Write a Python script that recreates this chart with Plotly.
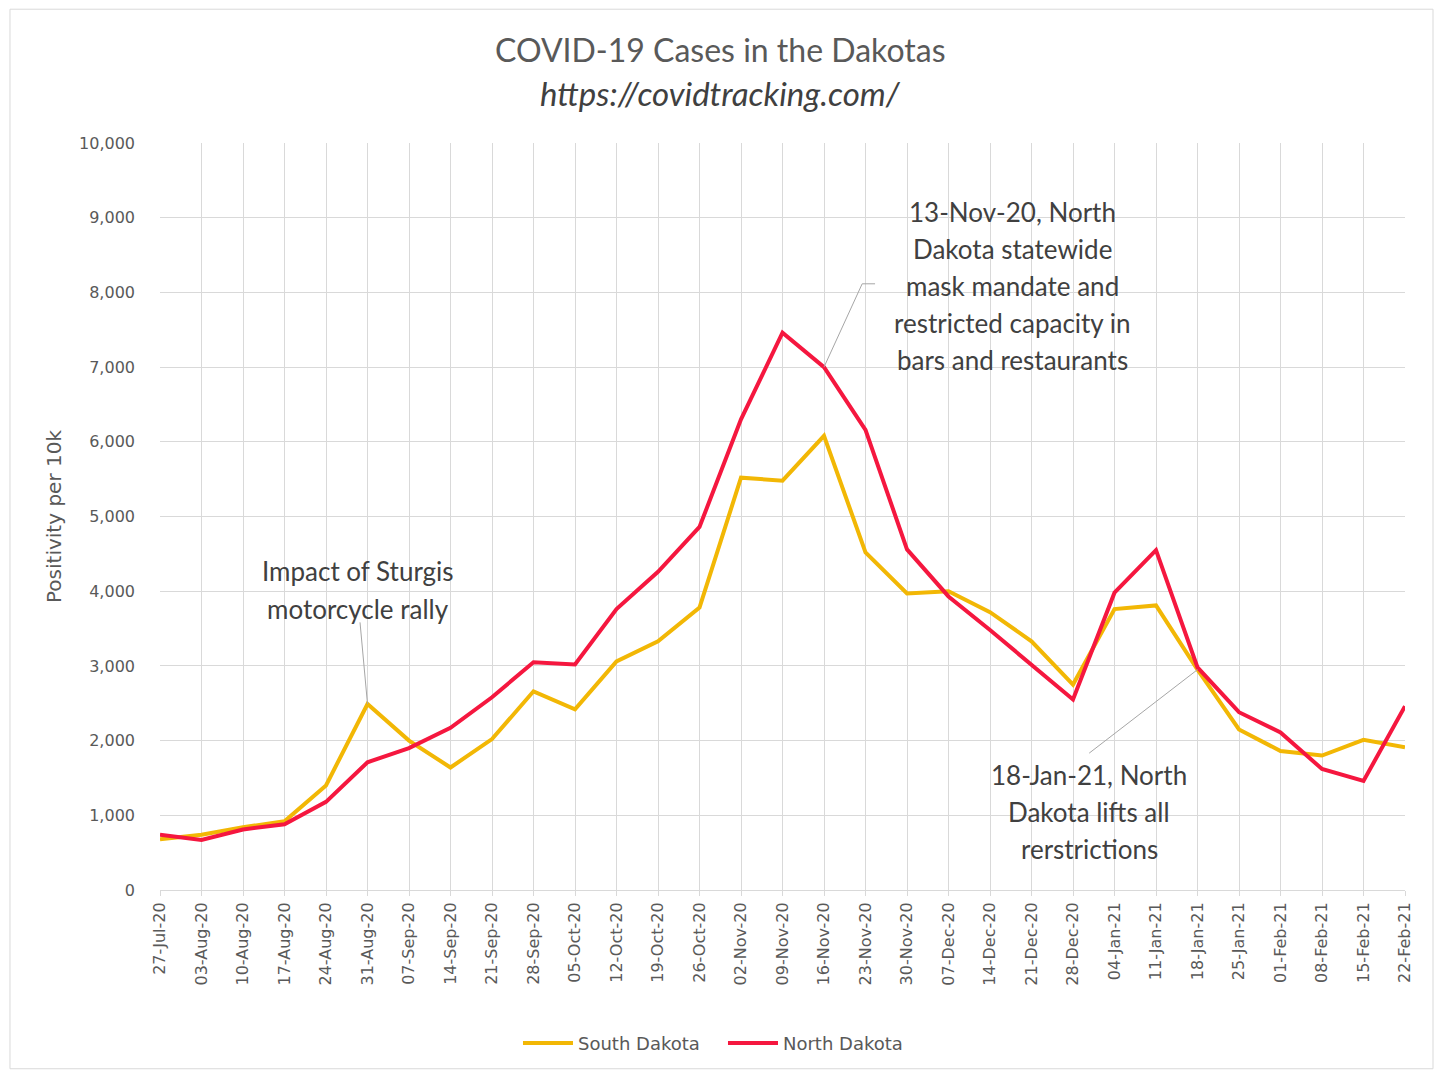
import plotly.graph_objects as go

dates = ["27-Jul-20", "03-Aug-20", "10-Aug-20", "17-Aug-20", "24-Aug-20", "31-Aug-20",
         "07-Sep-20", "14-Sep-20", "21-Sep-20", "28-Sep-20", "05-Oct-20", "12-Oct-20",
         "19-Oct-20", "26-Oct-20", "02-Nov-20", "09-Nov-20", "16-Nov-20", "23-Nov-20",
         "30-Nov-20", "07-Dec-20", "14-Dec-20", "21-Dec-20", "28-Dec-20", "04-Jan-21",
         "11-Jan-21", "18-Jan-21", "25-Jan-21", "01-Feb-21", "08-Feb-21", "15-Feb-21",
         "22-Feb-21"]

south_dakota = [680, 740, 840, 920, 1400, 2490, 2000, 1640, 2020, 2660, 2420, 3060,
                3330, 3780, 5520, 5480, 6080, 4520, 3970, 4000, 3720, 3330, 2750, 3760,
                3810, 2950, 2150, 1860, 1800, 2010, 1910]

north_dakota = [740, 670, 810, 880, 1180, 1710, 1900, 2170, 2580, 3050, 3020, 3760,
                4260, 4860, 6300, 7460, 7000, 6160, 4560, 3930, 3480, 3010, 2550, 3980,
                4550, 2980, 2380, 2110, 1620, 1460, 2460]

y_ticks = [0, 1000, 2000, 3000, 4000, 5000, 6000, 7000, 8000, 9000, 10000]

mask_note = ["13-Nov-20, North", "Dakota statewide", "mask mandate and",
             "restricted capacity in", "bars and restaurants"]
sturgis_note = ["Impact of Sturgis", "motorcycle rally"]
lift_note = ["18-Jan-21, North", "Dakota lifts all", "rerstrictions"]

YELLOW = "#F2B705"
RED = "#F5173F"
TXT = "#404040"
ANN_FONT = "Lato, Open Sans, sans-serif"
TICK_FONT = "DejaVu Sans, sans-serif"

fig = go.Figure()
fig.add_trace(go.Scatter(x=list(range(len(dates))), y=south_dakota, mode="lines",
                         name="South Dakota", line=dict(color=YELLOW, width=4)))
fig.add_trace(go.Scatter(x=list(range(len(dates))), y=north_dakota, mode="lines",
                         name="North Dakota", line=dict(color=RED, width=4)))

annotations = []
annotations.append(dict(text="COVID-19 Cases in the Dakotas", xref="paper", yref="paper",
                        x=0.4506, y=1.1257, showarrow=False, xanchor="center", yanchor="middle",
                        font=dict(family=ANN_FONT, size=32, color="#595959")))
annotations.append(dict(text="<i>https://covidtracking.com/</i>", xref="paper", yref="paper",
                        x=0.4506, y=1.0668, showarrow=False, xanchor="center", yanchor="middle",
                        font=dict(family=ANN_FONT, size=33, color="#404040")))

def add_block(lines, xc, ys):
    for t, yy in zip(lines, ys):
        annotations.append(dict(text=t, x=xc, y=yy, xref="x", yref="y", showarrow=False,
                                xanchor="center", yanchor="middle",
                                font=dict(family=ANN_FONT, size=26, color=TXT)))

add_block(mask_note, 20.53, [9077, 8583, 8088, 7594, 7099])
add_block(sturgis_note, 4.77, [4265, 3757])
add_block(lift_note, 22.39, [1537, 1043, 548])

shapes = [
    dict(type="line", xref="x", yref="y", x0=16, y0=north_dakota[16], x1=16.92, y1=8115,
         line=dict(color="#A6A6A6", width=1)),
    dict(type="line", xref="x", yref="y", x0=16.92, y0=8115, x1=17.23, y1=8115,
         line=dict(color="#A6A6A6", width=1)),
    dict(type="line", xref="x", yref="y", x0=4.82, y0=3583, x1=5, y1=south_dakota[5],
         line=dict(color="#A6A6A6", width=1)),
    dict(type="line", xref="x", yref="y", x0=22.39, y0=1832, x1=25, y1=south_dakota[25],
         line=dict(color="#A6A6A6", width=1)),
    dict(type="rect", xref="paper", yref="paper", x0=-0.1205, y0=-0.2393, x1=1.0225, y1=1.1791,
         line=dict(color="#D9D9D9", width=1), fillcolor="rgba(0,0,0,0)", layer="below"),
]

fig.update_layout(
    width=1426, height=1064,
    margin=dict(l=152, r=29, t=135, b=181),
    paper_bgcolor="white", plot_bgcolor="white",
    showlegend=True,
    legend=dict(orientation="h", x=0.4522, xanchor="center", y=-0.2035, yanchor="middle",
                font=dict(family=TICK_FONT, size=18, color="#595959"),
                itemwidth=50, entrywidth=140, tracegroupgap=0),
    annotations=annotations,
    shapes=shapes,
    xaxis=dict(
        tickmode="array", tickvals=list(range(len(dates))), ticktext=dates,
        range=[0, len(dates) - 1], tickangle=-90,
        showgrid=True, gridcolor="#D9D9D9", gridwidth=1,
        showline=True, linecolor="#D9D9D9", linewidth=1,
        ticks="outside", ticklen=5, tickcolor="#D9D9D9",
        tickfont=dict(family=TICK_FONT, size=16, color="#595959"),
        zeroline=False,
    ),
    yaxis=dict(
        range=[0, 10000], tickmode="array", tickvals=y_ticks,
        ticktext=[f"{v:,}" for v in y_ticks],
        showgrid=True, gridcolor="#D9D9D9", gridwidth=1,
        zeroline=False, showline=False, ticks="",
        tickfont=dict(family=TICK_FONT, size=16, color="#595959"),
        ticklabelstandoff=24,
        title=dict(text="Positivity per 10k", standoff=12,
                   font=dict(family=TICK_FONT, size=20, color="#595959")),
    ),
)

fig.write_html("out.html")
